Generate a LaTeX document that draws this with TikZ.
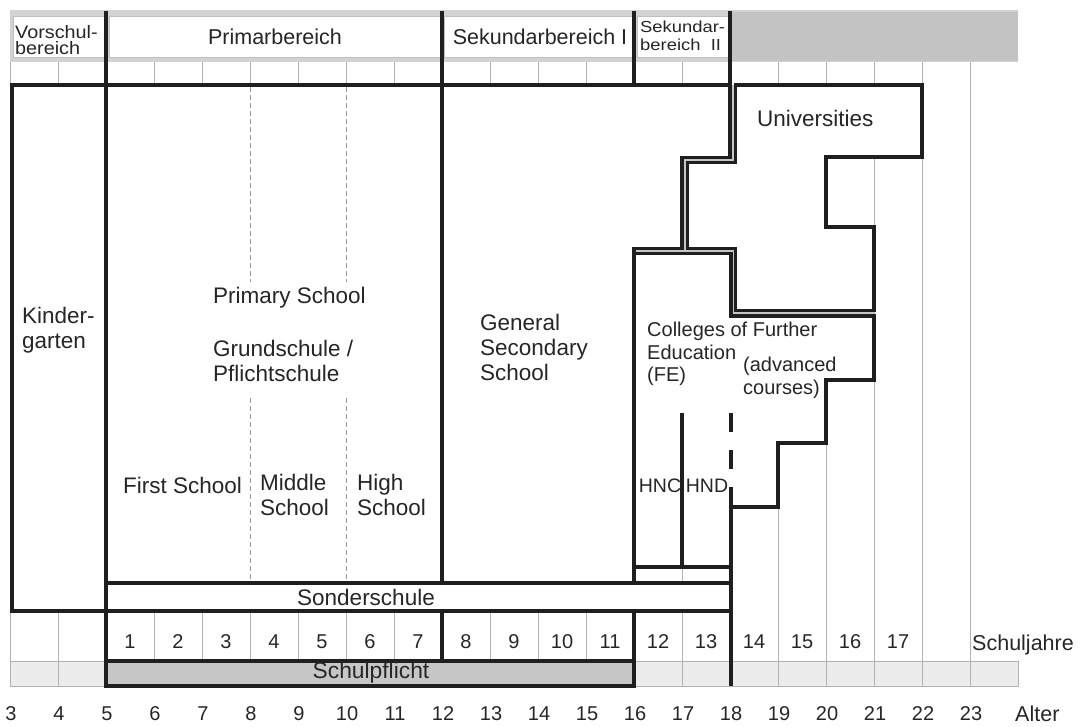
\documentclass[tikz,border=0pt]{standalone}
\usepackage{fontspec}
\usepackage{graphicx}
\setmainfont{Liberation Sans}
\begin{document}
\begin{tikzpicture}[x=1pt,y=-1pt,
  heavy/.style={line width=3.1pt,draw=black!88,line join=miter},
  gridline/.style={line width=0.8pt,draw=black!30},
  txt/.style={inner sep=0pt,text=black!85,font=\fontsize{22.5}{25}\selectfont,align=left},
  smalltxt/.style={inner sep=0pt,text=black!85,font=\fontsize{20}{22.5}\selectfont,align=left},
  hdr/.style={inner sep=0pt,text=black!85,font=\fontsize{21.5}{25}\selectfont},
  numtxt/.style={inner sep=0pt,text=black!85,font=\fontsize{20}{24}\selectfont},
]
\useasboundingbox (0,0) rectangle (1082,727);

% header band with the level boxes
\fill[gray!35] (10,10) rectangle (1018,62);
\fill[gray!47] (731,12) rectangle (1018,61);
\foreach \a/\b in {13/104, 109/440, 444/632, 637/729}
  \filldraw[fill=white,draw=black!25,line width=0.6pt] (\a,16) rectangle (\b,57);

% one column per year of age
\foreach \i in {0,...,20} \draw[gridline] ({10+48*\i},62) -- ({10+48*\i},686);

% compulsory schooling band
\filldraw[fill=gray!15,draw=black!30,line width=0.8pt] (10,661) rectangle (1018,686);
\foreach \i in {0,...,20} \draw[gridline] ({10+48*\i},661) -- ({10+48*\i},686);
\filldraw[heavy,fill=gray!45] (106,661) rectangle (634,686);

% shaded gap of the double borders between secondary, university and FE
\draw[gray!45,line width=5pt,line join=miter]
  (733,85) -- (733,160) -- (685,160) -- (685,251) -- (733,251) -- (733,313) -- (874,313);
\draw[gray!45,line width=5pt] (634,251) -- (685,251);

% school boxes
\filldraw[heavy,fill=white] (12,85) rectangle (106,611);
\filldraw[heavy,fill=white] (106,85) rectangle (442,583);
\filldraw[heavy,fill=white] (442,85) -- (730,85) -- (730,157.5) -- (682,157.5) -- (682,248.5)
  -- (634,248.5) -- (634,583) -- (442,583) -- cycle;
\filldraw[heavy,fill=white] (735.5,85) -- (922,85) -- (922,157) -- (826,157) -- (826,227)
  -- (874,227) -- (874,310.5) -- (735.5,310.5) -- (735.5,248.5) -- (687.5,248.5) -- (687.5,162.5)
  -- (735.5,162.5) -- cycle;
\filldraw[heavy,fill=white] (634,253.5) -- (731,253.5) -- (731,316) -- (874,316) -- (874,380)
  -- (826,380) -- (826,443) -- (778,443) -- (778,507) -- (731,507) -- (731,567)
  -- (634,567) -- cycle;
\filldraw[heavy,fill=white] (106,583) rectangle (731,611);

% HNC / HND division
\draw[heavy] (682,413) -- (682,567);
\draw[heavy,dash pattern=on 19pt off 18pt] (731,413) -- (731,507);

% stage divisions inside the primary school
\draw[black!40,line width=0.8pt,dash pattern=on 5pt off 3pt]
  (250,87) -- (250,282) (250,398) -- (250,581)
  (346,87) -- (346,282) (346,398) -- (346,581);

% heavy stage boundaries
\draw[heavy] (106,11) -- (106,85) (442,11) -- (442,85) (634,11) -- (634,85) (730,11) -- (730,85);
\draw[heavy] (106,611) -- (106,661) (442,611) -- (442,661) (634,611) -- (634,661) (731,567) -- (731,686);

% header labels
\node[inner sep=0pt,text=black!85,font=\fontsize{18}{16}\selectfont,align=left,anchor=west] (vor) at (15,40)
  {\scalebox{1.1}[1]{Vorschul-}\\\scalebox{1.1}[1]{bereich}};
\node[hdr] (prim) at (275,37) {Primarbereich};
\node[hdr] (sek1) at (540,37) {Sekundarbereich I};
\node[inner sep=0pt,text=black!85,font=\fontsize{16}{18}\selectfont,align=left,anchor=west] (sek2) at (640,36)
  {\scalebox{1.15}[1]{Sekundar-}\\\scalebox{1.15}[1]{bereich\ \ II}};

% school labels
\node[txt,anchor=west] (kg) at (22,330) {Kinder-\\garten};
\node[txt,anchor=west] (ps) at (213,298) {Primary School};
\node[txt,anchor=west] (gs) at (213,361) {Grundschule /\\Pflichtschule};
\node[txt,anchor=west] (fs) at (123,485) {First School};
\node[txt,anchor=west] (ms) at (260,495) {Middle\\School};
\node[txt,anchor=west] (hs) at (357,495) {High\\School};
\node[txt,anchor=west] (gen) at (480,347) {General\\Secondary\\School};
\node[txt,anchor=west] (uni) at (757,118) {Universities};
\node[smalltxt,anchor=west] (fe) at (647,354) {Colleges of Further\\Education\\(FE)};
\node[smalltxt,anchor=west] (adv) at (743,378) {(advanced\\courses)};
\node[smalltxt,font=\fontsize{19.5}{22}\selectfont] (hnc) at (660,486) {HNC};
\node[smalltxt,font=\fontsize{19.5}{22}\selectfont] (hnd) at (707,486) {HND};
\node[txt] (sond) at (366,597) {Sonderschule};
\node[txt,font=\fontsize{22.8}{25}\selectfont] (pfl) at (371,673) {Schulpflicht};

% school years and ages
\foreach \n in {1,...,17}
  \node[numtxt] (sj\n) at ({130+48*(\n-1)},642) {\n};
\node[hdr,anchor=west] (sj) at (972,645) {Schuljahre};
\foreach \a in {3,...,23}
  \node[numtxt] (age\a) at ({11+48*(\a-3)},714) {\a};
\node[hdr,anchor=west] (alter) at (1015,714) {Alter};
\end{tikzpicture}
\end{document}
